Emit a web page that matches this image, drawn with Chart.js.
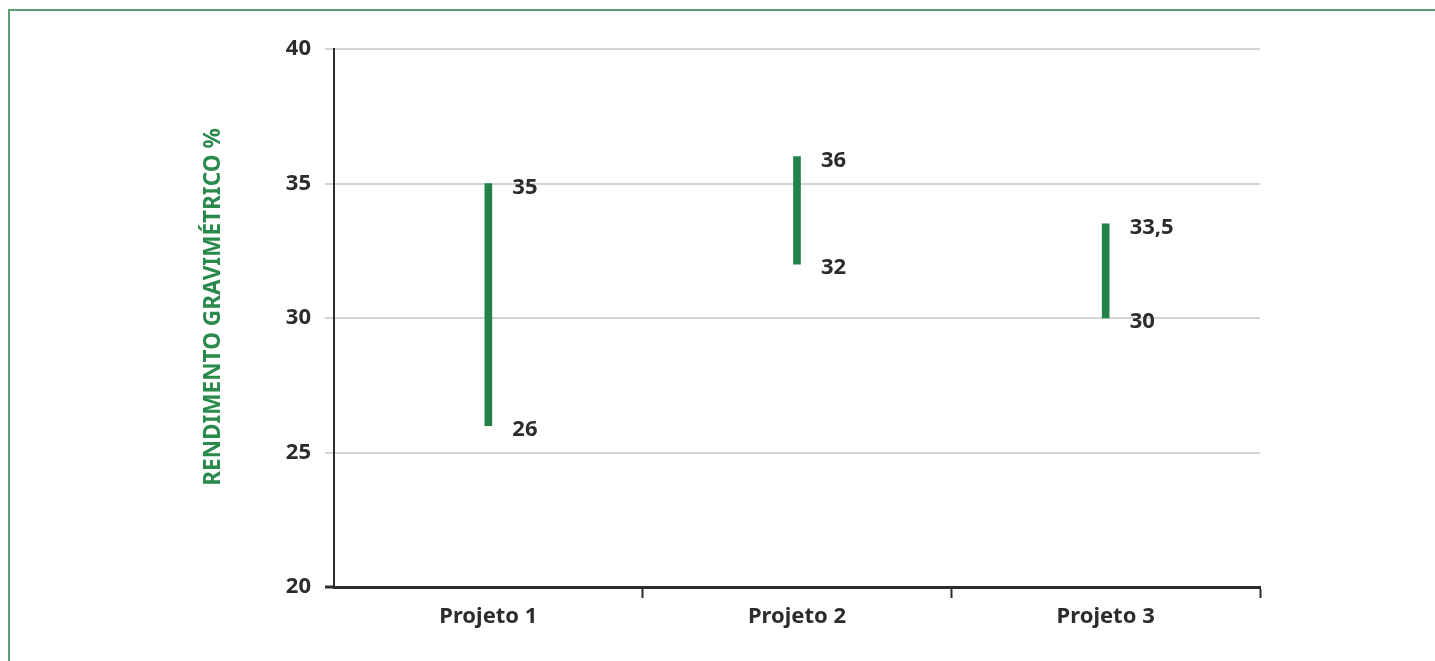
<!DOCTYPE html>
<html lang="pt-BR">
<head>
<meta charset="utf-8">
<script src="https://cdn.jsdelivr.net/npm/chart.js@4/dist/chart.umd.min.js"></script>
<style>
  html, body { margin: 0; padding: 0; background: #ffffff; }
  #wrap { position: relative; width: 1435px; height: 661px; overflow: hidden; }
  #frame {
    position: absolute; left: 8px; top: 9px; width: 1460px; height: 700px;
    border-top: 2px solid #5e9e72; border-left: 2px solid #5e9e72; box-sizing: border-box;
  }
  canvas { position: absolute; left: 0; top: 0; }
</style>
</head>
<body>
<div id="wrap">
  <div id="frame"></div>
  <canvas id="chart" width="1435" height="661"></canvas>
</div>
<script>
// Faixa de rendimento gravimétrico por projeto
const projetos = ['Projeto 1', 'Projeto 2', 'Projeto 3'];
const rendimentoMin = [26, 32, 30];
const rendimentoMax = [35, 36, 33.5];
const yTicks = [20, 25, 30, 35, 40];
const tituloY = 'RENDIMENTO GRAVIMÉTRICO %';

const FONT = '"Noto Sans", "Open Sans", sans-serif';
const TEXT = '#2b2c2e';
const VERDE = '#238249';

const fmt = v => String(v).replace('.', ',');

// Rótulos de mínimo e máximo à direita de cada barra
const rotulosFaixa = {
  id: 'rotulosFaixa',
  afterDatasetsDraw(chart) {
    const { ctx } = chart;
    const meta = chart.getDatasetMeta(0);
    const y = chart.scales.y;
    ctx.save();
    ctx.font = '700 22px ' + FONT;
    ctx.fillStyle = TEXT;
    ctx.textAlign = 'left';
    ctx.textBaseline = 'middle';
    meta.data.forEach((bar, i) => {
      const x = bar.x + 24;
      ctx.fillText(fmt(rendimentoMax[i]), x, y.getPixelForValue(rendimentoMax[i]) + 4);
      ctx.fillText(fmt(rendimentoMin[i]), x, y.getPixelForValue(rendimentoMin[i]) + 4);
    });
    ctx.restore();
  }
};

// Título do eixo vertical
const tituloEixoY = {
  id: 'tituloEixoY',
  afterDraw(chart) {
    const { ctx } = chart;
    ctx.save();
    ctx.translate(213, 307);
    ctx.rotate(-Math.PI / 2);
    ctx.scale(0.94, 1);
    ctx.font = '700 24px ' + FONT;
    ctx.fillStyle = '#2a8a4c';
    ctx.textAlign = 'center';
    ctx.textBaseline = 'middle';
    ctx.fillText(tituloY, 0, 0);
    ctx.restore();
  }
};

new Chart(document.getElementById('chart'), {
  type: 'bar',
  data: {
    labels: projetos,
    datasets: [{
      data: projetos.map((_, i) => [rendimentoMin[i], rendimentoMax[i]]),
      backgroundColor: VERDE,
      borderWidth: 0,
      barThickness: 7,
      borderSkipped: false
    }]
  },
  options: {
    responsive: false,
    animation: false,
    devicePixelRatio: 1,
    layout: { padding: { top: 49, right: 175, left: 0, bottom: 0 } },
    plugins: { legend: { display: false }, tooltip: { enabled: false } },
    scales: {
      x: {
        offset: true,
        grid: {
          offset: true,
          drawOnChartArea: false,
          drawTicks: true,
          tickLength: 11,
          tickWidth: 2,
          tickColor: ctx => (ctx.index === 0 ? 'rgba(0,0,0,0)' : '#2b2c2e')
        },
        border: { display: true, color: '#2b2c2e', width: 3 },
        ticks: { color: TEXT, font: { family: FONT, size: 22, weight: '700' }, padding: 6 },
        afterFit(scale) { scale.height = 74; }
      },
      y: {
        min: 20,
        max: 40,
        afterBuildTicks(scale) { scale.ticks = yTicks.map(v => ({ value: v })); },
        grid: {
          color: '#d4d4d4',
          lineWidth: 2,
          tickLength: 9,
          tickColor: ctx => (ctx.tick && ctx.tick.value === 20 ? '#2b2c2e' : '#d4d4d4'),
          tickWidth: ctx => (ctx.tick && ctx.tick.value === 20 ? 3 : 2)
        },
        border: { display: true, color: '#2b2c2e', width: 2 },
        ticks: { color: TEXT, font: { family: FONT, size: 22, weight: '700' }, padding: 14 },
        afterFit(scale) { scale.width = 334; }
      }
    }
  },
  plugins: [rotulosFaixa, tituloEixoY]
});
</script>
</body>
</html>
